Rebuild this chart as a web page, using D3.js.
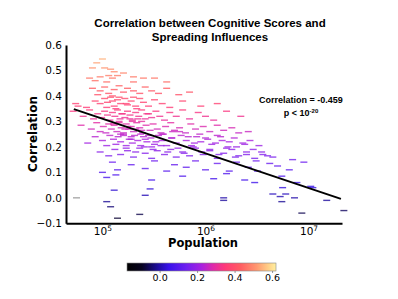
<!DOCTYPE html>
<html>
<head>
<meta charset="utf-8">
<script src="https://cdnjs.cloudflare.com/ajax/libs/d3/7.8.5/d3.min.js"></script>
<style>
  body { margin: 0; background: #fff; }
  svg text { fill: #000; }
</style>
</head>
<body>
<div id="chart"></div>
<script>
// population (thousands) and correlation for each region
let population = [
  100, 88, 80, 105, 120, 130, 115, 75, 95, 125, 140, 160, 200, 250, 320, 420, 200, 110, 85,
  80, 95, 105, 115, 130, 145, 160, 175, 200, 230, 260, 300, 350, 420, 550, 700, 90, 125,
  55, 58, 70, 85, 95, 105, 112, 120, 130, 140, 150, 165, 175, 190, 210, 230, 250, 280, 320, 380, 450, 600, 900, 1300, 145, 200, 110, 125,
  52, 65, 75, 82, 90, 98, 105, 112, 118, 125, 132, 140, 148, 155, 165, 175, 185, 195, 210, 225, 240, 260, 280, 300, 330, 360, 400, 450, 520, 600, 700, 850, 1000, 1200, 1600, 2200,
  62, 78, 88, 95, 102, 108, 115, 122, 130, 138, 145, 152, 160, 170, 180, 190, 200, 215, 230, 245, 265, 290, 310, 340, 370, 410, 460, 500, 560, 640, 720, 800, 950, 1100, 1300, 1500, 1800, 2100, 2600,
  72, 85, 100, 110, 118, 128, 135, 142, 150, 160, 170, 182, 195, 205, 220, 235, 250, 270, 295, 320, 350, 380, 420, 470, 520, 580, 650, 730, 820, 900, 1000, 1150, 1300, 1450, 1650, 1900, 2300, 2700, 3300,
  95, 115, 132, 150, 175, 200, 230, 260, 300, 340, 400, 460, 520, 600, 700, 800, 950, 1100, 1300, 1500, 1800, 2100, 2500, 3000, 3600, 4500, 7000,
  100, 125, 140, 190, 260, 320, 420, 500, 650, 800, 1000, 1300, 1700, 2000, 2600, 3200, 4200, 5000, 6500, 9000,
  110, 135, 300, 600, 1200, 1600, 2400, 3000, 5500, 7700, 10500,
  130, 260, 290, 1500, 4500, 5300, 5600, 7300, 11000, 6000,
  110, 120, 140, 230, 1500, 5500, 8600, 15000, 22000,
  135, 155, 170, 185, 215, 240, 270, 150, 165, 190, 210, 235, 128, 145, 175, 195, 220, 260, 300, 380, 480,
  160, 190, 240, 280, 330, 390, 470, 560, 680, 780, 880, 1050, 1250, 1400, 1700, 2000, 2400, 2900, 3500, 4000,
  170, 210, 255, 310, 370, 430, 540, 620, 760, 920, 1100, 1350, 1600, 1950, 2500, 3100
];
let correlation = [
  0.545, 0.53, 0.51, 0.51, 0.505, 0.495, 0.48, 0.47, 0.475, 0.47, 0.48, 0.49, 0.475, 0.47, 0.47, 0.455, 0.455, 0.455, 0.46,
  0.43, 0.42, 0.435, 0.41, 0.425, 0.44, 0.415, 0.43, 0.42, 0.41, 0.435, 0.42, 0.41, 0.43, 0.405, 0.415, 0.405, 0.40,
  0.37, 0.36, 0.355, 0.38, 0.37, 0.39, 0.375, 0.395, 0.36, 0.385, 0.37, 0.39, 0.365, 0.38, 0.36, 0.39, 0.375, 0.36, 0.385, 0.37, 0.355, 0.38, 0.36, 0.37, 0.395, 0.395, 0.355, 0.38,
  0.34, 0.32, 0.345, 0.31, 0.33, 0.315, 0.34, 0.325, 0.305, 0.335, 0.32, 0.345, 0.31, 0.33, 0.315, 0.34, 0.325, 0.305, 0.335, 0.32, 0.345, 0.31, 0.33, 0.315, 0.34, 0.32, 0.305, 0.335, 0.32, 0.345, 0.31, 0.335, 0.32, 0.305, 0.34, 0.32,
  0.285, 0.27, 0.295, 0.26, 0.28, 0.255, 0.29, 0.27, 0.285, 0.26, 0.295, 0.275, 0.255, 0.29, 0.27, 0.28, 0.26, 0.295, 0.275, 0.255, 0.285, 0.265, 0.29, 0.27, 0.255, 0.28, 0.295, 0.265, 0.275, 0.255, 0.29, 0.27, 0.28, 0.26, 0.285, 0.265, 0.275, 0.255, 0.26,
  0.215, 0.24, 0.225, 0.205, 0.245, 0.23, 0.21, 0.24, 0.22, 0.245, 0.205, 0.23, 0.215, 0.245, 0.225, 0.205, 0.24, 0.22, 0.235, 0.21, 0.245, 0.225, 0.205, 0.235, 0.215, 0.245, 0.225, 0.205, 0.24, 0.22, 0.235, 0.21, 0.245, 0.225, 0.2, 0.235, 0.215, 0.225, 0.205,
  0.18, 0.165, 0.19, 0.17, 0.185, 0.16, 0.195, 0.175, 0.155, 0.185, 0.17, 0.19, 0.16, 0.18, 0.165, 0.195, 0.17, 0.185, 0.155, 0.175, 0.19, 0.165, 0.18, 0.155, 0.17, 0.16, 0.15,
  0.1, 0.14, 0.11, 0.13, 0.115, 0.145, 0.105, 0.13, 0.12, 0.145, 0.11, 0.135, 0.105, 0.14, 0.12, 0.105, 0.135, 0.125, 0.11, 0.14,
  0.08, 0.09, 0.07, 0.085, 0.075, 0.095, 0.07, 0.06, 0.085, 0.06, 0.045,
  0.03, 0.01, 0.035, 0.0, 0.015, 0.005, 0.04, 0.0, 0.04, 0.015,
  -0.015, -0.035, -0.08, -0.065, -0.01, -0.015, -0.06, -0.01, -0.05,
  0.35, 0.33, 0.37, 0.31, 0.35, 0.3, 0.33, 0.25, 0.27, 0.24, 0.27, 0.25, 0.29, 0.3, 0.28, 0.3, 0.31, 0.23, 0.2, 0.25, 0.26,
  0.25, 0.23, 0.265, 0.245, 0.22, 0.25, 0.235, 0.26, 0.24, 0.215, 0.25, 0.23, 0.215, 0.24, 0.22, 0.2, 0.21, 0.19, 0.18, 0.165,
  0.195, 0.18, 0.2, 0.19, 0.205, 0.18, 0.195, 0.175, 0.2, 0.18, 0.19, 0.17, 0.195, 0.16, 0.17, 0.145
];
// one region plotted in grey
let greyPopulation = [56];
let greyCorrelation = [0.0];

let fitIntercept = 0.990, fitSlope = -0.1359; // corr = a + b*log10(pop)
let fitRange = [52.8, 20600];

let xTicks = [1e5, 1e6, 1e7];
let yTicks = [-0.1, 0.0, 0.1, 0.2, 0.3, 0.4, 0.5, 0.6];
let cbarTicks = [0.0, 0.2, 0.4, 0.6];
let cbarRange = [-0.174, 0.621];
let cmapStops = [0, 0.1, 0.2, 0.28, 0.4, 0.5, 0.58, 0.66, 0.76, 0.87, 0.95, 1];
let cmapColors = ["#000000", "#07031f", "#1c0c96", "#3812ea", "#7020f0", "#a822e0", "#e02aa8",
  "#ff3a78", "#ff5c62", "#ff9870", "#ffd088", "#fff0a0"];

let W = 398, H = 299;
let margin = { left: 66, right: 56, top: 45, bottom: 75.7 };
let width = W - margin.left - margin.right;
let height = H - margin.top - margin.bottom;

let x = d3.scaleLog().domain([44.3e3, 21.1e6]).range([0, width]);
let y = d3.scaleLinear().domain([-0.1, 0.6]).range([height, 0]);
let cmapT = d3.scaleLinear().domain(cbarRange).range([0, 1]).clamp(true);
let cmap = d3.scaleLinear().domain(cmapStops).range(cmapColors).interpolate(d3.interpolateRgb);
let color = v => cmap(cmapT(v));

let svg = d3.select("#chart").append("svg").attr("width", W).attr("height", H);

// title
let title = svg.append("text")
  .attr("text-anchor", "middle")
  .style("font-family", "'Liberation Sans', Arial, sans-serif")
  .style("font-weight", "bold")
  .style("font-size", "11.5px");
title.append("tspan").attr("x", 210).attr("y", 27).text("Correlation between Cognitive Scores and");
title.append("tspan").attr("x", 210).attr("y", 40.5).text("Spreading Influences");

let g = svg.append("g").attr("transform", "translate(" + margin.left + "," + margin.top + ")");

// markers
let points = population.map((p, i) => ({ pop: p * 1000, corr: correlation[i] }));
g.selectAll(".pt")
  .data(points)
  .enter()
  .append("line")
  .attr("class", "pt")
  .attr("x1", d => x(d.pop) - 3.5)
  .attr("x2", d => x(d.pop) + 3.5)
  .attr("y1", d => y(d.corr))
  .attr("y2", d => y(d.corr))
  .attr("stroke", d => color(d.corr))
  .attr("stroke-opacity", 0.8)
  .attr("stroke-width", 1.4);

g.selectAll(".grey")
  .data(greyPopulation.map((p, i) => ({ pop: p * 1000, corr: greyCorrelation[i] })))
  .enter()
  .append("line")
  .attr("x1", d => x(d.pop) - 3.5)
  .attr("x2", d => x(d.pop) + 3.5)
  .attr("y1", d => y(d.corr))
  .attr("y2", d => y(d.corr))
  .attr("stroke", "#aaaaaa")
  .attr("stroke-width", 1.4);

// regression line
let fitData = fitRange.map(p => ({ pop: p * 1000, corr: fitIntercept + fitSlope * Math.log10(p * 1000) }));
g.append("path")
  .datum(fitData)
  .attr("fill", "none")
  .attr("stroke", "#000")
  .attr("stroke-width", 2)
  .attr("d", d3.line().x(d => x(d.pop)).y(d => y(d.corr)));

// axes
let xAxis = g.append("g")
  .attr("transform", "translate(0," + height + ")")
  .call(d3.axisBottom(x).tickValues(xTicks).tickSize(0).tickPadding(3).tickFormat(() => ""));
xAxis.select(".domain").attr("stroke-width", 2);
xAxis.selectAll(".tick text").each(function(d) {
  let t = d3.select(this)
    .style("font-family", "'DejaVu Sans', sans-serif")
    .style("font-size", "10.5px")
    .attr("dy", "0.8em");
  t.append("tspan").text("10");
  t.append("tspan").attr("dy", "-0.45em").style("font-size", "7.5px").text(Math.round(Math.log10(d)));
});

let yAxis = g.append("g")
  .call(d3.axisLeft(y).tickValues(yTicks).tickSize(0).tickPadding(4)
    .tickFormat(d => d < 0 ? "\u2212" + d3.format(".1f")(-d) : d3.format(".1f")(d)));
yAxis.select(".domain").attr("stroke-width", 2);
yAxis.selectAll(".tick text")
  .style("font-family", "'DejaVu Sans', sans-serif")
  .style("font-size", "10.5px");

// axis labels
svg.append("text")
  .attr("x", 203).attr("y", 247)
  .attr("text-anchor", "middle")
  .style("font-family", "'DejaVu Sans', sans-serif")
  .style("font-weight", "bold")
  .style("font-size", "11.5px")
  .text("Population");

svg.append("text")
  .attr("transform", "translate(37,134) rotate(-90)")
  .attr("text-anchor", "middle")
  .style("font-family", "'DejaVu Sans', sans-serif")
  .style("font-weight", "bold")
  .style("font-size", "12px")
  .text("Correlation");

// annotation
let ann = svg.append("text")
  .attr("text-anchor", "middle")
  .style("font-family", "'Liberation Sans', Arial, sans-serif")
  .style("font-weight", "bold")
  .style("font-size", "9px");
ann.append("tspan").attr("x", 301).attr("y", 103).text("Correlation = -0.459");
let p2 = svg.append("text")
  .attr("x", 301).attr("y", 115.5)
  .attr("text-anchor", "middle")
  .style("font-family", "'Liberation Sans', Arial, sans-serif")
  .style("font-weight", "bold")
  .style("font-size", "9px");
p2.append("tspan").text("p < 10");
p2.append("tspan").attr("dy", "-0.45em").style("font-size", "6px").text("-20");

// colorbar
let cbX = 127, cbY = 263, cbW = 149, cbH = 8;
let defs = svg.append("defs");
let grad = defs.append("linearGradient").attr("id", "cbar");
cmapStops.forEach((s, i) => {
  grad.append("stop").attr("offset", s * 100 + "%").attr("stop-color", cmapColors[i]);
});
svg.append("rect")
  .attr("x", cbX).attr("y", cbY).attr("width", cbW).attr("height", cbH)
  .attr("fill", "url(#cbar)")
  .attr("stroke", "#888").attr("stroke-width", 0.6);

let cbScale = d3.scaleLinear().domain(cbarRange).range([0, cbW]);
let cbAxis = svg.append("g")
  .attr("transform", "translate(" + cbX + "," + (cbY + cbH) + ")")
  .call(d3.axisBottom(cbScale).tickValues(cbarTicks).tickSize(2).tickPadding(1).tickFormat(d3.format(".1f")));
cbAxis.select(".domain").remove();
cbAxis.selectAll(".tick line").attr("stroke", "#555").attr("stroke-width", 0.6);
cbAxis.selectAll(".tick text")
  .style("font-family", "'DejaVu Sans', sans-serif")
  .style("font-size", "9.5px");
</script>
</body>
</html>
